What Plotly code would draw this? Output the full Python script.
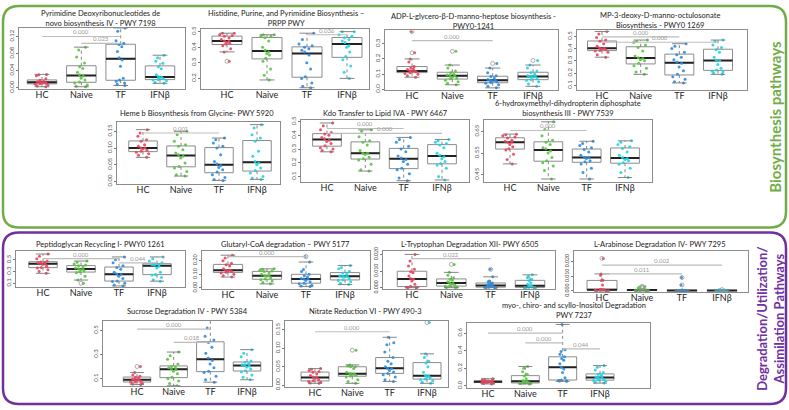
import numpy as np
import plotly.graph_objects as go

W, H = 789, 410
GROUPS = ["HC", "Naive", "TF", "IFNβ"]
GROUP_COLORS = ["#E5455C", "#58C43F", "#2A8CE0", "#1FD3E6"]
FONT = "Lato"

# ---------------- data ----------------
pyrimidine = [
    [0.002, 0.004, 0.006, 0.008, 0.009, 0.010, 0.011, 0.012, 0.013, 0.014, 0.015, 0.017, 0.021, 0.028, 0.030, 0.031],
    [0.002, 0.003, 0.006, 0.011, 0.013, 0.018, 0.022, 0.027, 0.030, 0.036, 0.045, 0.049, 0.058, 0.072, 0.088, 0.095],
    [0.005, 0.008, 0.011, 0.015, 0.018, 0.022, 0.050, 0.065, 0.070, 0.085, 0.096, 0.101, 0.104, 0.110, 0.132, 0.140],
    [0.010, 0.012, 0.016, 0.018, 0.019, 0.021, 0.023, 0.024, 0.026, 0.030, 0.044, 0.049, 0.057, 0.062, 0.070, 0.076],
]
histidine = [
    [0.31, 0.37, 0.39, 0.41, 0.42, 0.425, 0.43, 0.44, 0.44, 0.45, 0.46, 0.47, 0.475, 0.48, 0.49, 0.49],
    [0.19, 0.22, 0.26, 0.31, 0.33, 0.35, 0.36, 0.37, 0.38, 0.40, 0.44, 0.46, 0.47, 0.47, 0.48, 0.48],
    [0.14, 0.15, 0.17, 0.20, 0.21, 0.26, 0.30, 0.35, 0.37, 0.38, 0.39, 0.40, 0.41, 0.42, 0.45, 0.49],
    [0.20, 0.24, 0.28, 0.32, 0.34, 0.37, 0.40, 0.41, 0.43, 0.44, 0.45, 0.46, 0.47, 0.48, 0.50, 0.50],
]
adp_heptose = [
    [0.08, 0.09, 0.10, 0.105, 0.11, 0.115, 0.12, 0.12, 0.12, 0.13, 0.135, 0.14, 0.15, 0.18, 0.20, 0.24, 0.38],
    [0.03, 0.04, 0.05, 0.06, 0.07, 0.075, 0.08, 0.09, 0.09, 0.095, 0.10, 0.11, 0.12, 0.14, 0.16, 0.25],
    [0.01, 0.02, 0.03, 0.04, 0.045, 0.05, 0.055, 0.06, 0.06, 0.065, 0.075, 0.085, 0.09, 0.11, 0.14, 0.17],
    [0.02, 0.035, 0.05, 0.06, 0.065, 0.07, 0.08, 0.085, 0.085, 0.09, 0.10, 0.11, 0.12, 0.14, 0.16, 0.19],
]
mp3_deoxy = [
    [0.33, 0.35, 0.37, 0.38, 0.385, 0.39, 0.395, 0.40, 0.405, 0.42, 0.44, 0.46, 0.47, 0.49, 0.52, 0.54],
    [0.19, 0.21, 0.24, 0.26, 0.28, 0.30, 0.31, 0.32, 0.325, 0.34, 0.38, 0.41, 0.43, 0.45, 0.46, 0.47],
    [0.12, 0.13, 0.15, 0.17, 0.19, 0.22, 0.25, 0.28, 0.29, 0.31, 0.33, 0.35, 0.37, 0.40, 0.42, 0.44],
    [0.19, 0.20, 0.21, 0.215, 0.225, 0.24, 0.27, 0.30, 0.305, 0.33, 0.37, 0.39, 0.41, 0.43, 0.46, 0.47],
]
heme_b = [
    [0.072, 0.078, 0.083, 0.087, 0.09, 0.093, 0.097, 0.10, 0.10, 0.105, 0.11, 0.12, 0.125, 0.135, 0.145, 0.155],
    [0.016, 0.02, 0.03, 0.04, 0.045, 0.055, 0.07, 0.075, 0.08, 0.085, 0.095, 0.105, 0.11, 0.12, 0.14, 0.15],
    [0.003, 0.006, 0.012, 0.02, 0.028, 0.035, 0.042, 0.048, 0.052, 0.06, 0.08, 0.10, 0.105, 0.115, 0.125, 0.13],
    [0.006, 0.01, 0.015, 0.025, 0.033, 0.04, 0.05, 0.055, 0.06, 0.075, 0.09, 0.12, 0.13, 0.14, 0.16, 0.17],
]
kdo_transfer = [
    [0.28, 0.29, 0.30, 0.31, 0.325, 0.34, 0.355, 0.365, 0.375, 0.385, 0.40, 0.41, 0.42, 0.44, 0.47, 0.49],
    [0.14, 0.15, 0.19, 0.22, 0.23, 0.24, 0.26, 0.27, 0.27, 0.29, 0.33, 0.35, 0.36, 0.39, 0.43, 0.44],
    [0.07, 0.09, 0.12, 0.15, 0.16, 0.19, 0.21, 0.225, 0.235, 0.25, 0.28, 0.30, 0.32, 0.35, 0.37, 0.385],
    [0.075, 0.10, 0.16, 0.185, 0.195, 0.21, 0.23, 0.245, 0.255, 0.27, 0.31, 0.33, 0.34, 0.35, 0.36, 0.37],
]
hydroxymethyl = [
    [0.50, 0.52, 0.545, 0.565, 0.57, 0.58, 0.59, 0.60, 0.60, 0.605, 0.61, 0.62, 0.625, 0.63, 0.635, 0.638],
    [0.43, 0.47, 0.49, 0.505, 0.515, 0.53, 0.55, 0.56, 0.57, 0.575, 0.59, 0.60, 0.61, 0.63, 0.66, 0.695],
    [0.43, 0.46, 0.48, 0.50, 0.51, 0.515, 0.525, 0.53, 0.53, 0.54, 0.555, 0.567, 0.575, 0.585, 0.595, 0.605],
    [0.437, 0.46, 0.48, 0.498, 0.505, 0.515, 0.52, 0.525, 0.53, 0.54, 0.555, 0.572, 0.58, 0.59, 0.60, 0.607],
]
peptidoglycan = [
    [0.27, 0.30, 0.33, 0.36, 0.37, 0.39, 0.42, 0.43, 0.44, 0.45, 0.46, 0.465, 0.48, 0.52, 0.56, 0.60],
    [0.10, 0.155, 0.22, 0.28, 0.295, 0.31, 0.33, 0.34, 0.35, 0.36, 0.38, 0.40, 0.41, 0.43, 0.46, 0.48],
    [0.055, 0.07, 0.10, 0.13, 0.14, 0.18, 0.22, 0.25, 0.26, 0.29, 0.34, 0.37, 0.40, 0.45, 0.50, 0.55],
    [0.136, 0.16, 0.20, 0.24, 0.25, 0.29, 0.36, 0.39, 0.41, 0.415, 0.42, 0.43, 0.45, 0.48, 0.52, 0.55],
]
glutaryl = [
    [0.08, 0.09, 0.10, 0.11, 0.115, 0.12, 0.125, 0.13, 0.13, 0.14, 0.16, 0.17, 0.18, 0.20, 0.22, 0.24],
    [0.03, 0.04, 0.05, 0.06, 0.065, 0.075, 0.085, 0.09, 0.09, 0.10, 0.11, 0.12, 0.125, 0.13, 0.135, 0.14],
    [0.01, 0.015, 0.02, 0.03, 0.035, 0.045, 0.055, 0.065, 0.065, 0.07, 0.08, 0.09, 0.10, 0.12, 0.135, 0.19, 0.23],
    [0.025, 0.035, 0.045, 0.055, 0.06, 0.07, 0.08, 0.085, 0.085, 0.09, 0.10, 0.11, 0.12, 0.14, 0.15, 0.165],
]
tryptophan = [
    [0.0, 0.0001, 0.0002, 0.0003, 0.0008, 0.002, 0.004, 0.005, 0.0055, 0.007, 0.009, 0.0095, 0.011, 0.013, 0.016, 0.020],
    [0.0, 0.0001, 0.0004, 0.0008, 0.001, 0.0015, 0.002, 0.0025, 0.003, 0.0035, 0.0045, 0.005, 0.006, 0.0075, 0.0092, 0.014],
    [0.0, 0.0, 0.0001, 0.0002, 0.0003, 0.0006, 0.0009, 0.0012, 0.0013, 0.0016, 0.002, 0.0023, 0.0028, 0.0035, 0.004, 0.0065, 0.011],
    [0.0, 0.0, 0.0, 0.0, 0.0002, 0.0005, 0.0008, 0.001, 0.0012, 0.002, 0.003, 0.0042, 0.005, 0.006, 0.0068, 0.0077],
]
arabinose = [
    [0.0, 0.0, 0.0001, 0.0003, 0.0004, 0.0005, 0.0006, 0.0007, 0.0008, 0.001, 0.004, 0.007, 0.0072, 0.0105, 0.0115, 0.022],
    [0.0, 0.0, 0.0001, 0.0002, 0.0003, 0.0004, 0.0005, 0.0005, 0.0006, 0.0007, 0.0008, 0.0008, 0.001, 0.002, 0.0025, 0.003],
    [0.0, 0.0, 0.0, 0.0, 0.0001, 0.0001, 0.0002, 0.0002, 0.0003, 0.0003, 0.0004, 0.0004, 0.0005, 0.004, 0.009],
    [0.0, 0.0, 0.0, 0.0, 0.0001, 0.0001, 0.0001, 0.0002, 0.0002, 0.0003, 0.0003, 0.0004, 0.0005, 0.0006, 0.0008],
]
sucrose = [
    [0.05, 0.055, 0.06, 0.07, 0.072, 0.078, 0.085, 0.09, 0.092, 0.095, 0.10, 0.11, 0.12, 0.13, 0.15, 0.20],
    [0.04, 0.06, 0.08, 0.10, 0.11, 0.14, 0.16, 0.175, 0.18, 0.19, 0.195, 0.20, 0.22, 0.26, 0.29, 0.32],
    [0.07, 0.09, 0.12, 0.15, 0.16, 0.19, 0.22, 0.25, 0.27, 0.31, 0.36, 0.40, 0.42, 0.45, 0.52, 0.60],
    [0.09, 0.11, 0.13, 0.155, 0.165, 0.18, 0.195, 0.205, 0.21, 0.215, 0.225, 0.235, 0.245, 0.28, 0.31, 0.34],
]
nitrate = [
    [0.005, 0.006, 0.008, 0.01, 0.012, 0.015, 0.018, 0.02, 0.022, 0.026, 0.03, 0.035, 0.037, 0.04, 0.043, 0.045],
    [0.005, 0.01, 0.015, 0.022, 0.025, 0.027, 0.029, 0.03, 0.032, 0.035, 0.045, 0.05, 0.05, 0.052, 0.055, 0.095],
    [0.01, 0.015, 0.022, 0.028, 0.032, 0.036, 0.04, 0.045, 0.046, 0.05, 0.058, 0.065, 0.075, 0.09, 0.11, 0.115, 0.13],
    [0.005, 0.008, 0.012, 0.015, 0.017, 0.02, 0.022, 0.025, 0.026, 0.035, 0.05, 0.06, 0.065, 0.075, 0.085, 0.17],
]
myo_inositol = [
    [0.02, 0.025, 0.03, 0.035, 0.037, 0.04, 0.042, 0.045, 0.046, 0.048, 0.05, 0.055, 0.06, 0.065, 0.07, 0.08],
    [0.02, 0.025, 0.028, 0.03, 0.032, 0.036, 0.04, 0.05, 0.052, 0.06, 0.08, 0.11, 0.13, 0.16, 0.20, 0.22],
    [0.05, 0.055, 0.058, 0.06, 0.065, 0.09, 0.15, 0.19, 0.21, 0.25, 0.29, 0.31, 0.33, 0.36, 0.39, 0.41, 0.70],
    [0.03, 0.04, 0.05, 0.06, 0.065, 0.07, 0.08, 0.09, 0.095, 0.10, 0.12, 0.13, 0.15, 0.18, 0.21, 0.23],
]

titles = [
    "Pyrimidine Deoxyribonucleotides de<br>novo biosynthesis IV - PWY 7198",
    "Histidine, Purine, and Pyrimidine Biosynthesis –<br>PRPP PWY",
    "ADP-L-glycero-β-D-manno-heptose biosynthesis -<br>PWY0-1241",
    "MP-3-deoxy-D-manno-octulosonate<br>Biosynthesis - PWY0 1269",
    "Heme b Biosynthesis from Glycine- PWY 5920",
    "Kdo Transfer to Lipid IVA - PWY 6467",
    "6-hydroxymethyl-dihydropterin diphosphate<br>biosynthesis III - PWY 7539",
    "Peptidoglycan Recycling I- PWY0 1261",
    "Glutaryl-CoA degradation – PWY 5177",
    "L-Tryptophan Degradation XII- PWY 6505",
    "L-Arabinose Degradation IV- PWY 7295",
    "Sucrose Degradation IV - PWY 5384",
    "Nitrate Reduction VI - PWY 490-3",
    "myo-, chiro- and scyllo-Inositol Degradation<br>PWY 7237",
]
panel_data = [pyrimidine, histidine, adp_heptose, mp3_deoxy, heme_b, kdo_transfer, hydroxymethyl,
              peptidoglycan, glutaryl, tryptophan, arabinose, sucrose, nitrate, myo_inositol]

# p-values: (group a, group b, label)
pvalues = [
    [(0, 2, "0.000"), (1, 2, "0.023")],
    [(2, 3, "0.036")],
    [(0, 2, "0.000")],
    [(0, 2, "0.000"), (0, 3, "0.000")],
    [(0, 2, "0.001")],
    [(0, 2, "0.000"), (0, 3, "0.000")],
    [(0, 2, "0.000")],
    [(0, 2, "0.000"), (2, 3, "0.044")],
    [(0, 2, "0.000")],
    [(0, 2, "0.022")],
    [(0, 2, "0.011"), (0, 3, "0.002")],
    [(0, 2, "0.000"), (1, 2, "0.018")],
    [(0, 2, "0.000")],
    [(0, 2, "0.000"), (1, 2, "0.000"), (2, 3, "0.044")],
]
ytick_values = [
    [0, 0.04, 0.08, 0.12], [0.2, 0.3, 0.4, 0.5], [0, 0.1, 0.2, 0.3], [0.1, 0.2, 0.3, 0.4, 0.5],
    [0, 0.05, 0.10, 0.15], [0.1, 0.2, 0.3, 0.4, 0.5], [0.45, 0.55, 0.65],
    [0.1, 0.3, 0.5], [0, 0.1, 0.2], [0, 0.01, 0.02], [0, 0.01, 0.02],
    [0.1, 0.3, 0.5], [0, 0.05, 0.10, 0.15], [0, 0.2, 0.4, 0.6],
]

# ---------------- layout spec (pixels) ----------------
# frame l, r, t, b ; HC centre, IFNb centre ; y range ; tick format ; title centre x, y ; p-line heights ; y tick size
LAYOUT = [
    dict(f=(19, 185, 24, 87), c=(42, 160), yr=(-0.004, 0.141), fmt=".2f", tt=(100, 15), ph=[0.120, 0.104], ts=6),
    dict(f=(201, 369, 25, 87), c=(227, 347), yr=(0.13, 0.52), fmt=".1f", tt=(286, 15), ph=[0.48], ts=6),
    dict(f=(385, 558, 27, 88), c=(412, 533), yr=(-0.006, 0.387), fmt=".1f", tt=(473, 18), ph=[0.32], ts=6),
    dict(f=(577, 747, 27, 88), c=(602, 718), yr=(0.06, 0.548), fmt=".1f", tt=(660, 17), ph=[0.495, 0.452], ts=6),
    dict(f=(117, 280, 120, 184), c=(143, 257), yr=(-0.009, 0.179), fmt=".2f", tt=(197, 112), ph=[0.145], ts=6),
    dict(f=(301, 469, 118, 182), c=(327, 442), yr=(0.057, 0.514), fmt=".1f", tt=(385, 112), ph=[0.45, 0.415], ts=6),
    dict(f=(484, 652, 118, 182), c=(510, 625), yr=(0.414, 0.705), fmt=".2f", tt=(568, 107), ph=[0.655], ts=6),
    dict(f=(16, 185, 252, 289), c=(43, 157), yr=(0.03, 0.65), fmt=".1f", tt=(100, 245), ph=[0.52, 0.45], ts=6),
    dict(f=(202, 370, 252, 291), c=(228, 345), yr=(-0.01, 0.27), fmt=".2f", tt=(285, 245), ph=[0.23], ts=5.5),
    dict(f=(383, 555, 252, 291), c=(412, 530), yr=(-0.001, 0.022), fmt=".3f", tt=(470, 245), ph=[0.0175], ts=5.2),
    dict(f=(574, 748, 252, 294), c=(602, 722), yr=(-0.001, 0.027), fmt=".3f", tt=(660, 245), ph=[0.0115, 0.0175], ts=5.2),
    dict(f=(103, 272, 323, 390), c=(137, 247), yr=(0.035, 0.58), fmt=".1f", tt=(187, 314), ph=[0.51, 0.40], ts=6),
    dict(f=(285, 448, 323, 391), c=(315, 427), yr=(-0.006, 0.175), fmt=".2f", tt=(365, 314), ph=[0.145], ts=6),
    dict(f=(467, 650, 325, 392), c=(488, 600), yr=(-0.03, 0.72), fmt=".1f", tt=(574, 313), ph=[0.60, 0.49, 0.42], ts=6),
]

BOX_W = 0.75
fig = go.Figure()
annotations = []
shapes = []
layout_axes = {}

for i, (vals, spec) in enumerate(zip(panel_data, LAYOUT)):
    k = i + 1
    xa, ya = f"x{k}", f"y{k}"
    l, r, t, b = spec["f"]
    hc, ifn = spec["c"]
    step = (ifn - hc) / 3.0
    xr = (1 - (hc - l) / step, 4 + (r - ifn) / step)

    layout_axes[f"xaxis{k}"] = dict(
        domain=[l / W, r / W], range=list(xr), anchor=ya,
        tickvals=[1, 2, 3, 4], ticktext=GROUPS, ticks="", ticklabelstandoff=-3,
        tickfont=dict(size=9, color="#222", family=FONT),
        showline=True, mirror=True, linecolor="#8c8c8c", linewidth=1,
        showgrid=False, zeroline=False, fixedrange=True,
    )
    layout_axes[f"yaxis{k}"] = dict(
        domain=[1 - b / H, 1 - t / H], range=list(spec["yr"]), anchor=xa,
        tickvals=ytick_values[i], tickformat=spec["fmt"], tickangle=-90,
        tickfont=dict(size=spec["ts"], color="#555", family=FONT),
        ticks="outside", ticklen=2, tickcolor="#777",
        showline=True, mirror=True, linecolor="#8c8c8c", linewidth=1,
        showgrid=False, zeroline=False, fixedrange=True,
    )

    for j, v in enumerate(vals):
        arr = np.array(v, dtype=float)
        q1, med, q3 = np.percentile(arr, [25, 50, 75])
        iqr = q3 - q1
        inside = arr[(arr >= q1 - 1.5 * iqr) & (arr <= q3 + 1.5 * iqr)]
        lo, hi = inside.min(), inside.max()
        outl = arr[(arr < q1 - 1.5 * iqr) | (arr > q3 + 1.5 * iqr)]
        pos = j + 1
        # box body
        fig.add_trace(go.Box(x=[pos], q1=[q1], median=[med], q3=[q3], lowerfence=[q1], upperfence=[q3],
                             width=BOX_W, whiskerwidth=0, fillcolor="white",
                             line=dict(color="#8c8c8c", width=1), boxpoints=False,
                             xaxis=xa, yaxis=ya, hoverinfo="skip"))
        # dashed whiskers
        fig.add_trace(go.Scatter(x=[pos, pos, None, pos, pos], y=[q3, hi, None, q1, lo], mode="lines",
                                 line=dict(color="#777", width=0.9, dash="dot"),
                                 xaxis=xa, yaxis=ya, hoverinfo="skip"))
        # whisker caps
        cw = BOX_W * 0.25
        fig.add_trace(go.Scatter(x=[pos - cw, pos + cw, None, pos - cw, pos + cw], y=[hi, hi, None, lo, lo],
                                 mode="lines", line=dict(color="#777", width=0.9),
                                 xaxis=xa, yaxis=ya, hoverinfo="skip"))
        # median line
        fig.add_trace(go.Box(x=[pos], q1=[med], median=[med], q3=[med], lowerfence=[med], upperfence=[med],
                             width=BOX_W, whiskerwidth=0, fillcolor="rgba(0,0,0,0)",
                             line=dict(color="#222", width=2), boxpoints=False,
                             xaxis=xa, yaxis=ya, hoverinfo="skip"))
        # R-style outlier circles
        if len(outl):
            fig.add_trace(go.Scatter(x=[pos] * len(outl), y=outl, mode="markers",
                                     marker=dict(symbol="circle-open", size=4, color="#999", line=dict(width=0.8)),
                                     xaxis=xa, yaxis=ya, hoverinfo="skip"))
        # jittered points
        fig.add_trace(go.Box(x=[pos] * len(arr), y=arr, boxpoints="all", jitter=0.55, pointpos=0,
                             width=BOX_W, fillcolor="rgba(0,0,0,0)",
                             line=dict(color="rgba(0,0,0,0)", width=0),
                             marker=dict(color=GROUP_COLORS[j], size=3, opacity=0.9),
                             xaxis=xa, yaxis=ya, hoveron="points"))

    # p-value brackets
    for (a, bb, lab), yh in zip(pvalues[i], spec["ph"]):
        shapes.append(dict(type="line", xref=xa, yref=ya, x0=a + 1, x1=bb + 1, y0=yh, y1=yh,
                           line=dict(color="#bdbdbd", width=1.2)))
        annotations.append(dict(xref=xa, yref=ya, x=(a + bb + 2) / 2, y=yh, text=lab, showarrow=False,
                                yanchor="bottom", yshift=-1, font=dict(size=6, color="#9a9a9a", family=FONT)))

    # panel title
    tx, ty = spec["tt"]
    annotations.append(dict(xref="paper", yref="paper", x=tx / W, y=1 - ty / H, text=titles[i],
                            showarrow=False, xanchor="center", yanchor="middle",
                            font=dict(size=7.5, color="#222", family=FONT)))


def rounded_rect(x0, y0, x1, y1, rad):
    rx, ry = rad / W, rad / H
    X0, X1 = x0 / W, x1 / W
    Y0, Y1 = 1 - y1 / H, 1 - y0 / H
    return (f"M {X0 + rx} {Y1} L {X1 - rx} {Y1} Q {X1} {Y1} {X1} {Y1 - ry} "
            f"L {X1} {Y0 + ry} Q {X1} {Y0} {X1 - rx} {Y0} "
            f"L {X0 + rx} {Y0} Q {X0} {Y0} {X0} {Y0 + ry} "
            f"L {X0} {Y1 - ry} Q {X0} {Y1} {X0 + rx} {Y1} Z")


GREEN = "#70AD47"
PURPLE = "#7030A0"
shapes.append(dict(type="path", xref="paper", yref="paper", path=rounded_rect(3, 2, 786, 228, 16),
                   line=dict(color=GREEN, width=2.5)))
shapes.append(dict(type="path", xref="paper", yref="paper", path=rounded_rect(3, 233, 786, 408, 16),
                   line=dict(color=PURPLE, width=2.5)))

annotations.append(dict(xref="paper", yref="paper", x=775 / W, y=1 - 115 / H, text="<b>Biosynthesis pathways</b>",
                        textangle=-90, showarrow=False, xanchor="center", yanchor="middle",
                        font=dict(size=15, color=GREEN, family=FONT)))
annotations.append(dict(xref="paper", yref="paper", x=771 / W, y=1 - 321 / H,
                        text="<b>Degradation/Utilization/<br>Assimilation Pathways</b>",
                        textangle=-90, showarrow=False, xanchor="center", yanchor="middle",
                        font=dict(size=13, color=PURPLE, family=FONT)))

fig.update_layout(
    width=W, height=H, margin=dict(l=0, r=0, t=0, b=0),
    paper_bgcolor="white", plot_bgcolor="white", showlegend=False,
    boxmode="overlay", annotations=annotations, shapes=shapes,
    font=dict(family=FONT),
    **layout_axes,
)

fig.write_html("out.html", config={"displayModeBar": False},
               post_script="document.body.style.margin='0';")
